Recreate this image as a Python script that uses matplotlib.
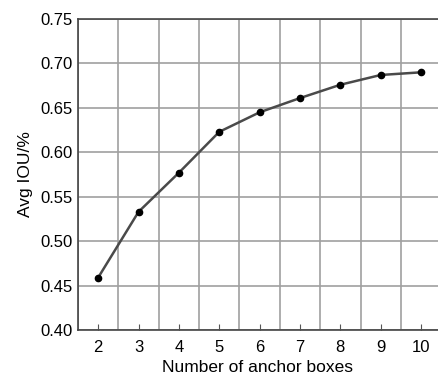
import numpy as np
import matplotlib.pyplot as plt
from matplotlib.ticker import MultipleLocator

plt.rcParams['font.family'] = ['Liberation Sans', 'DejaVu Sans']

n_boxes = [2, 3, 4, 5, 6, 7, 8, 9, 10]
avg_iou = [0.459, 0.533, 0.577, 0.623, 0.645, 0.661, 0.676, 0.687, 0.690]

fig = plt.figure(figsize=(4.38, 3.78), dpi=100)
ax = fig.add_axes([78 / 438, 48 / 378, 360 / 438, 311 / 378])

ax.plot(n_boxes, avg_iou, color="#4a4a4a", lw=1.8, marker="o",
        markersize=4.5, markerfacecolor="black", markeredgecolor="black", zorder=3)

ax.set_xlim(1.5, 10.42)
ax.set_ylim(0.40, 0.75)
ax.set_xticks(n_boxes)
ax.xaxis.set_minor_locator(MultipleLocator(1, offset=0.5))
ax.yaxis.set_major_locator(MultipleLocator(0.05))
ax.yaxis.set_major_formatter(plt.FormatStrFormatter("%.2f"))

ax.grid(True, which="minor", axis="x", color="#a0a0a0", lw=1.2)
ax.grid(True, which="major", axis="y", color="#a0a0a0", lw=1.2)
ax.tick_params(axis="x", which="major", direction="in", length=4, color="#555555",
               labelsize=12, pad=7)
ax.tick_params(axis="x", which="minor", length=0)
ax.tick_params(axis="y", length=0, labelsize=12, pad=4)

ax.spines["right"].set_visible(False)
for s in ["left", "bottom", "top"]:
    ax.spines[s].set_color("#444444")
    ax.spines[s].set_linewidth(1.2)

ax.set_xlabel("Number of anchor boxes", fontsize=12.5, labelpad=4)
ax.set_ylabel("Avg IOU/%", fontsize=12.5, labelpad=5)

plt.savefig("out.png", dpi=100)
